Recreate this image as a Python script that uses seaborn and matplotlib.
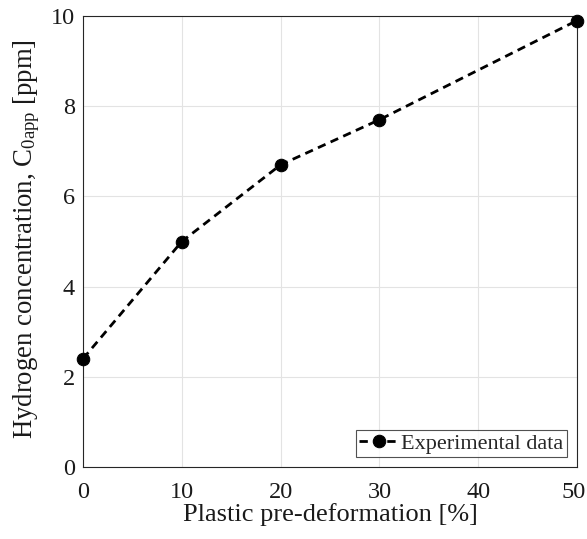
import matplotlib
matplotlib.use("Agg")
import matplotlib.pyplot as plt
import matplotlib.transforms as mtransforms
import seaborn as sns
import pandas as pd

deformation = [0, 10, 20, 30, 50]
concentration = [2.4, 5.0, 6.7, 7.7, 9.9]
xticks = [0, 10, 20, 30, 40, 50]
yticks = [0, 2, 4, 6, 8, 10]

sns.set_theme(style="white")
plt.rcParams['font.family'] = ['Liberation Serif', 'DejaVu Serif']
plt.rcParams['mathtext.fontset'] = 'custom'
plt.rcParams['mathtext.rm'] = 'Liberation Serif'
plt.rcParams['mathtext.it'] = 'Liberation Serif:italic'

df = pd.DataFrame({"x": deformation, "y": concentration})

fig = plt.figure(figsize=(5.87, 5.39), dpi=100)
ax = fig.add_axes([83/587, 1 - 467/539, (577-83)/587, (467-16)/539])

sns.lineplot(data=df, x="x", y="y", ax=ax, color="black", linestyle=(0, (3, 2)),
             linewidth=2.0, marker="o", markersize=9, markeredgecolor="black",
             label="Experimental data", clip_on=False, zorder=5)

ax.set_xlim(0, 50)
ax.set_ylim(0, 10)
ax.set_xticks(xticks)
ax.set_yticks(yticks)
ax.grid(True, color="#e3e3e3", linewidth=0.8)
ax.set_axisbelow(True)
for s in ax.spines.values():
    s.set_color("#262626")
    s.set_linewidth(0.8)
ax.tick_params(direction="in", length=5, width=0.8, colors="#262626",
               labelsize=17.5, labelcolor="#1a1a1a", top=False, right=False)
ax.tick_params(axis="x", pad=11)
ax.tick_params(axis="y", pad=6)
ax.set_xlabel("Plastic pre-deformation [%]", fontsize=19, color="#1a1a1a")
ax.set_ylabel(r"Hydrogen concentration, C$_{\mathrm{0app}}$ [ppm]", fontsize=19.3,
              color="#1a1a1a")
ax.xaxis.set_label_coords(0.5, -0.079)
ax.yaxis.set_label_coords(-0.083, 0.505)

# nudge the last x tick label slightly left so it stays inside the figure
last = ax.get_xticklabels()[-1]
last.set_transform(last.get_transform() + mtransforms.ScaledTranslation(-3/100, 0, fig.dpi_scale_trans))

leg = ax.legend(loc="lower right", fontsize=16, frameon=True, fancybox=False,
                edgecolor="#262626", borderpad=0.15, handlelength=1.8,
                handletextpad=0.1, borderaxespad=0.45)
leg.get_frame().set_linewidth(0.8)

fig.savefig("out.png", dpi=100)
